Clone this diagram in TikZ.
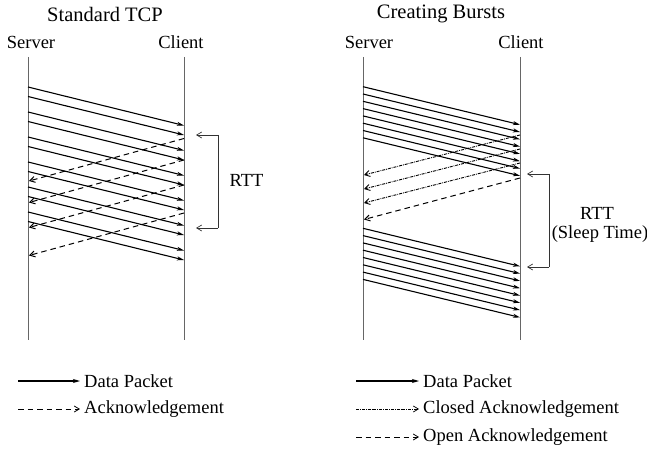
\documentclass[tikz,border=0pt]{standalone}
\usepackage{fontspec}
\setmainfont{Liberation Serif}
\usetikzlibrary{arrows.meta}
\begin{document}
\begin{tikzpicture}[x=1pt,y=-1pt,
  life/.style={draw=black!60, line width=0.9pt},
  data/.style={draw=black, line width=1.1pt, -{Stealth[length=7pt,width=4pt,inset=2pt]}},
  openack/.style={draw=black, line width=1pt, dash pattern=on 5.5pt off 4pt, -{Straight Barb[length=5pt,width=6pt]}},
  closedack/.style={draw=black, line width=0.9pt, dash pattern=on 3pt off 1pt on 0.8pt off 1pt, -{Straight Barb[length=5pt,width=6pt]}},
  rtt/.style={draw=black!80, line width=0.7pt, -{Straight Barb[length=5pt,width=6pt]}},
  ttl/.style={font=\fontsize{20.5}{23}\selectfont},
  lbl/.style={font=\fontsize{18.5}{21}\selectfont},
  leg/.style={font=\fontsize{18.5}{21}\selectfont, anchor=west, inner sep=1pt}]
\useasboundingbox (0,0) rectangle (647,449);
% titles
\node[ttl] (t1) at (105,14) {Standard TCP};
\node[ttl] (t2) at (441,14) {Creating Bursts};
\node[lbl] (s1) at (31,42) {Server};
\node[lbl] (c1) at (181,42) {Client};
\node[lbl] (s2) at (369,42) {Server};
\node[lbl] (c2) at (521,42) {Client};
% lifelines
\coordinate (s1t) at (28,57); \coordinate (s1b) at (28,340);
\coordinate (c1t) at (184,57); \coordinate (c1b) at (184,340);
\coordinate (s2t) at (363,57); \coordinate (s2b) at (363,340);
\coordinate (c2t) at (520,57); \coordinate (c2b) at (520,340);
\draw[life] (s1t) -- (s1b);
\draw[life] (c1t) -- (c1b);
\draw[life] (s2t) -- (s2b);
\draw[life] (c2t) -- (c2b);
% left data packets
\foreach \y [count=\i] in {87,96.5,112,121.5,137,146.5,162,171.5,187,196.5,212,221.5}{
  \coordinate (la\i) at (28,\y);
  \coordinate (lb\i) at (184,\y+38.5);
  \draw[data] (la\i) -- (lb\i);
}
% left acks
\foreach \y [count=\i] in {138.5,160,185,213}{
  \coordinate (lk\i) at (184,\y);
  \coordinate (lm\i) at (29,\y+42.5);
  \draw[openack] (lk\i) -- (lm\i);
}
% left RTT
\coordinate (r1a) at (218,135); \coordinate (r1b) at (196,135);
\coordinate (r1c) at (218,228); \coordinate (r1d) at (196,228);
\draw[rtt] (r1a) -- (r1b);
\draw[rtt] (r1c) -- (r1d);
\draw[draw=black!80, line width=0.7pt] (r1a) -- (r1c);
\node[lbl, anchor=west] (rttl) at (226,180) {RTT};
% right burst 1
\foreach \y [count=\i] in {86.7,94,101.3,108.6,115.9,123.2,130.5,137.8}{
  \coordinate (ra\i) at (363,\y);
  \coordinate (rb\i) at (520,\y+38);
  \draw[data] (ra\i) -- (rb\i);
}
% right acks
\foreach \y [count=\i] in {135,149,163}{
  \coordinate (rk\i) at (520,\y);
  \coordinate (rm\i) at (364,\y+40);
  \draw[closedack] (rk\i) -- (rm\i);
}
\coordinate (rk4) at (520,178); \coordinate (rm4) at (364,219.5);
\draw[openack] (rk4) -- (rm4);
% right burst 2
\foreach \y [count=\i] in {228.3,235.6,242.9,250.2,257.5,264.8,272.1,279.4}{
  \coordinate (rc\i) at (363,\y);
  \coordinate (rd\i) at (520,\y+38);
  \draw[data] (rc\i) -- (rd\i);
}
% right RTT
\coordinate (r2a) at (549,174); \coordinate (r2b) at (527,174);
\coordinate (r2c) at (549,267); \coordinate (r2d) at (527,267);
\draw[rtt] (r2a) -- (r2b);
\draw[rtt] (r2c) -- (r2d);
\draw[draw=black!80, line width=0.7pt] (r2a) -- (r2c);
\node[lbl] (rttr) at (597,213) {RTT};
\node[lbl] (slp) at (600,234) {(Sleep Time)};
% legends
\coordinate (l1a) at (18,381); \coordinate (l1b) at (80,381);
\draw[data] (l1a) -- (l1b);
\node[leg] (l1t) at (83,381) {Data Packet};
\coordinate (l2a) at (18,409); \coordinate (l2b) at (80,409);
\draw[openack, line width=0.8pt] (l2a) -- (l2b);
\node[leg] (l2t) at (83,409) {Acknowledgement};
\coordinate (l3a) at (356,381); \coordinate (l3b) at (419,381);
\draw[data] (l3a) -- (l3b);
\node[leg] (l3t) at (422,381) {Data Packet};
\coordinate (l4a) at (356,409); \coordinate (l4b) at (419,409);
\draw[closedack, line width=0.7pt] (l4a) -- (l4b);
\node[leg] (l4t) at (422,409) {Closed Acknowledgement};
\coordinate (l5a) at (356,437); \coordinate (l5b) at (419,437);
\draw[openack, line width=0.8pt] (l5a) -- (l5b);
\node[leg] (l5t) at (422,437) {Open Acknowledgement};
\end{tikzpicture}
\end{document}
